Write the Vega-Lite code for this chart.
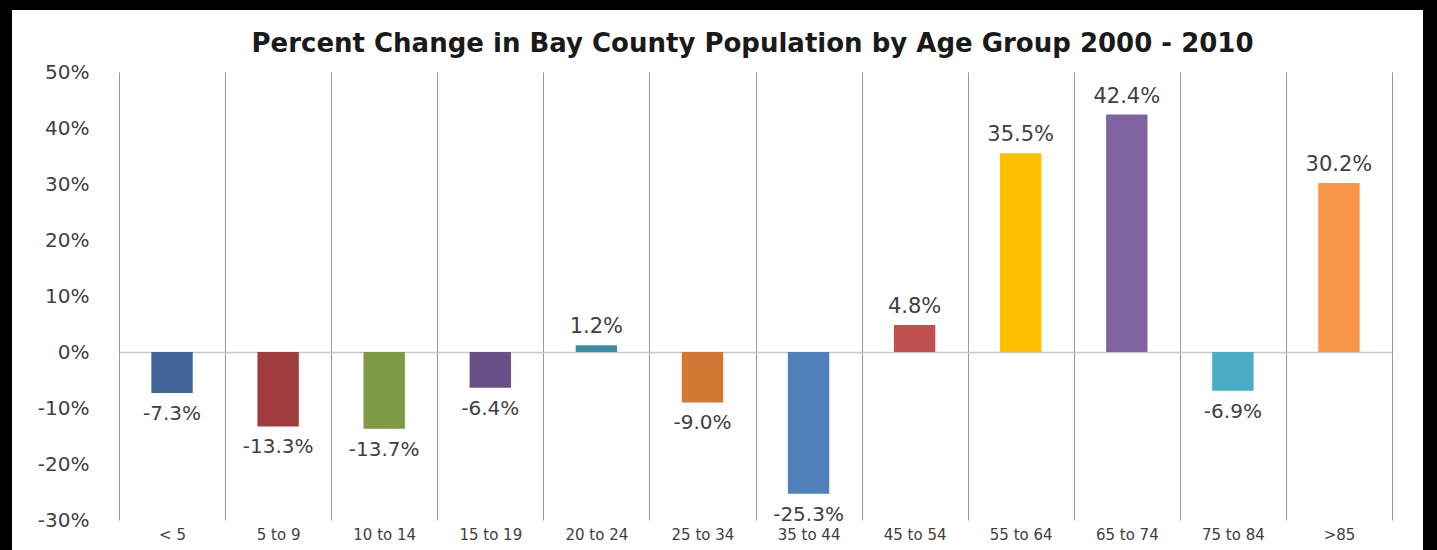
{
  "$schema": "https://vega.github.io/schema/vega-lite/v6.json",
  "autosize": "none",
  "width": 1411,
  "height": 540,
  "padding": {"left": 12, "top": 10, "right": 14, "bottom": 0},
  "background": "#000000",
  "config": {
    "font": "DejaVu Sans",
    "view": {"fill": "#ffffff", "stroke": null},
    "locale": {
      "number": {"decimal": ".", "thousands": ",", "grouping": [3], "currency": ["$", ""], "minus": "-"}
    }
  },
  "title": {
    "text": "Percent Change in Bay County Population by Age Group 2000 - 2010",
    "fontSize": 26,
    "fontWeight": "bold",
    "color": "#1a1a1a",
    "anchor": "middle",
    "frame": "group",
    "dx": 35,
    "offset": -47
  },
  "data": {
    "values": [
      {"group": "< 5", "value": -0.073},
      {"group": "5 to 9", "value": -0.133},
      {"group": "10 to 14", "value": -0.137},
      {"group": "15 to 19", "value": -0.064},
      {"group": "20 to 24", "value": 0.012},
      {"group": "25 to 34", "value": -0.090},
      {"group": "35 to 44", "value": -0.253},
      {"group": "45 to 54", "value": 0.048},
      {"group": "55 to 64", "value": 0.355},
      {"group": "65 to 74", "value": 0.424},
      {"group": "75 to 84", "value": -0.069},
      {"group": ">85", "value": 0.302}
    ]
  },
  "encoding": {
    "x": {
      "field": "group",
      "type": "nominal",
      "sort": null,
      "scale": {"range": [107, 1380], "paddingInner": 0, "paddingOuter": 0},
      "axis": {
        "title": null,
        "orient": "top",
        "tickBand": "extent",
        "grid": true,
        "gridColor": "#999999",
        "gridWidth": 1,
        "ticks": false,
        "domain": false,
        "labelAngle": 0,
        "labelPadding": -524,
        "labelBaseline": "middle",
        "labelFontSize": 15,
        "labelColor": "#404040"
      }
    },
    "y": {
      "field": "value",
      "type": "quantitative",
      "scale": {"domain": [-0.3, 0.5], "range": [510, 62], "nice": false, "zero": false},
      "axis": {
        "title": null,
        "orient": "left",
        "offset": -107,
        "values": [-0.3, -0.2, -0.1, 0, 0.1, 0.2, 0.3, 0.4, 0.5],
        "format": ".0%",
        "ticks": false,
        "tickSize": 0,
        "domain": false,
        "labelPadding": 30,
        "labelFontSize": 20,
        "labelColor": "#404040",
        "grid": true,
        "gridColor": {"condition": {"test": "datum.value === 0", "value": "#c8c8c8"}, "value": "transparent"},
        "gridWidth": 1.5
      }
    }
  },
  "layer": [
    {
      "mark": {"type": "bar", "width": {"band": 0.39}},
      "encoding": {
        "y2": {"datum": 0},
        "color": {
          "field": "group",
          "type": "nominal",
          "legend": null,
          "scale": {
            "domain": ["< 5", "5 to 9", "10 to 14", "15 to 19", "20 to 24", "25 to 34", "35 to 44", "45 to 54", "55 to 64", "65 to 74", "75 to 84", ">85"],
            "range": ["#3F6597", "#9E3D3B", "#7F9A47", "#6A4F88", "#3A8DA5", "#D07935", "#4F80BC", "#C0504D", "#FFC000", "#8064A2", "#4BACC6", "#F79646"]
          }
        }
      }
    },
    {
      "transform": [{"filter": "datum.value >= 0"}],
      "mark": {"type": "text", "baseline": "alphabetic", "dy": -12, "fontSize": 21, "color": "#404040"},
      "encoding": {"text": {"field": "value", "type": "quantitative", "format": ".1%"}}
    },
    {
      "transform": [{"filter": "datum.value < 0"}],
      "mark": {"type": "text", "baseline": "top", "dy": 11, "fontSize": 20, "color": "#404040"},
      "encoding": {"text": {"field": "value", "type": "quantitative", "format": ".1%"}}
    }
  ]
}
